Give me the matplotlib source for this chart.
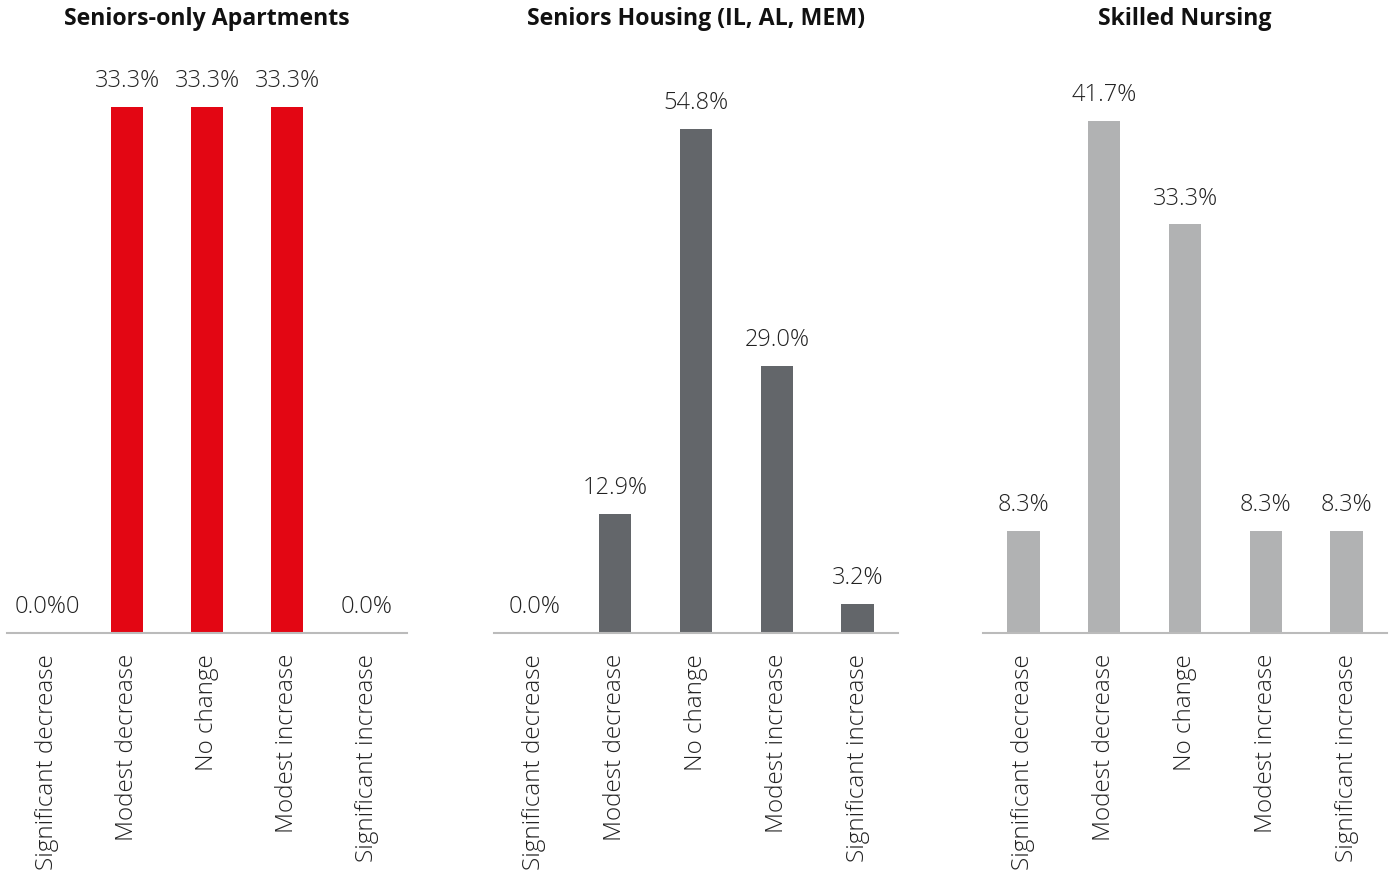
import numpy as np
import matplotlib
matplotlib.use("Agg")
import matplotlib.pyplot as plt

# datos
categorias = ['Significant decrease', 'Modest decrease', 'No change',
              'Modest increase', 'Significant increase']
titulos = ['Seniors-only Apartments', 'Seniors Housing (IL, AL, MEM)', 'Skilled Nursing']
apartments = [0.0, 33.3, 33.3, 33.3, 0.0]
housing = [0.0, 12.9, 54.8, 29.0, 3.2]
nursing = [8.3, 41.7, 33.3, 8.3, 8.3]
etiquetas_apartments = ['0.0%0', '33.3%', '33.3%', '33.3%', '0.0%']

series = [apartments, housing, nursing]
colores = ['#E30613', '#63666A', '#B1B2B3']
ylims = [36.3, 62.3, 46.7]
lefts = [7, 494, 983]
anchos = [400, 404, 404]

plt.rcParams['font.family'] = ['Open Sans', 'DejaVu Sans']

fig = plt.figure(figsize=(13.89, 8.76), dpi=100)
W, H = 1389, 876

for i, valores in enumerate(series):
    ax = fig.add_axes([lefts[i] / W, (H - 633) / H, anchos[i] / W, 573 / H])
    x = np.arange(len(categorias))
    ax.bar(x, valores, width=0.4, color=colores[i])
    ax.set_xlim(-0.5, 4.5)
    ax.set_ylim(0, ylims[i])
    if i == 0:
        textos = etiquetas_apartments
    else:
        textos = [f"{v:.1f}%" for v in valores]
    for xi, v, t in zip(x, valores, textos):
        ax.annotate(t, (xi, v), xytext=(0, 10), textcoords='offset points',
                    ha='center', va='bottom', fontsize=17, fontweight='light',
                    color='#222222')
    for s in ['top', 'right', 'left']:
        ax.spines[s].set_visible(False)
    ax.spines['bottom'].set_color('#BBBBBB')
    ax.spines['bottom'].set_linewidth(1.5)
    ax.set_yticks([])
    ax.set_xticks(x)
    ax.set_xticklabels(categorias, rotation=90, fontsize=17.5, fontweight='light',
                       color='#222222', va='top')
    ax.tick_params(axis='x', length=0, pad=15)
    fig.text((lefts[i] + anchos[i] / 2) / W, 1 - 19 / H, titulos[i], ha='center',
             va='center', fontsize=16.7, fontweight='bold', color='#111111')

fig.savefig('out.png', dpi=100)
